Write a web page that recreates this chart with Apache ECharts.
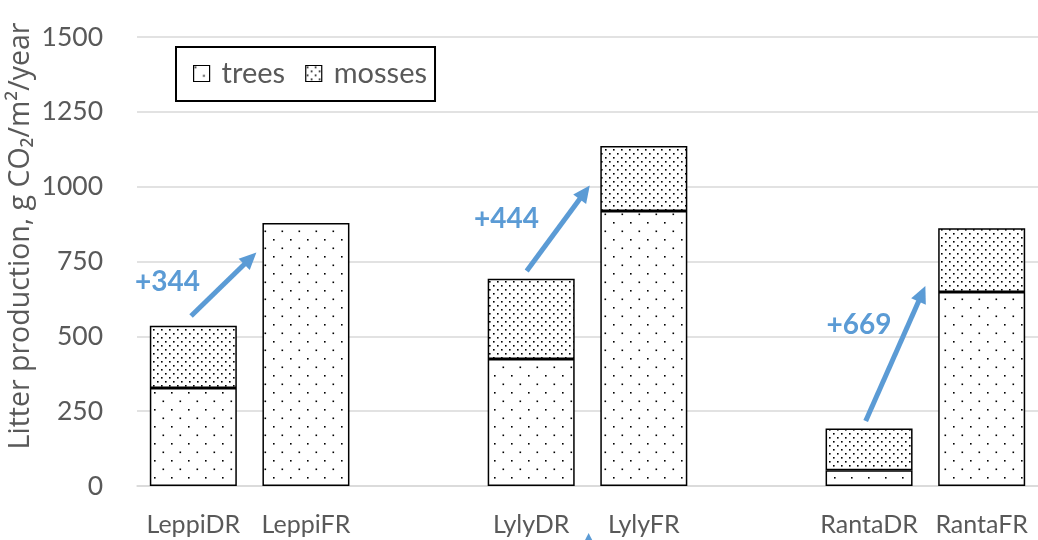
<!DOCTYPE html>
<html>
<head>
<meta charset="utf-8">
<script src="https://cdn.jsdelivr.net/npm/echarts@6/dist/echarts.min.js"></script>
<style>
    html, body { margin: 0; padding: 0; background: #fff; }
    #chart { width: 1038px; height: 540px; }
</style>
</head>
<body>
<div id="chart"></div>
<script>
var categories = ['LeppiDR', 'LeppiFR', '', 'LylyDR', 'LylyFR', '', 'RantaDR', 'RantaFR'];
var trees = [327, 879, null, 424, 919, null, 53, 648];
var mosses = [208, null, null, 268, 217, null, 139, 213];
var yTicks = [0, 250, 500, 750, 1000, 1250, 1500];
var yName = 'Litter production, g CO₂/m²/year';

// arrows and labels, in data space: [category index (fractional), value]
var arrowFrom = [[-0.02, 568], [2.96, 718], [5.97, 217]];
var arrowTo = [[0.56, 780], [3.52, 1004], [6.5, 668]];
var arrowText = ['+344', '+444', '+669'];
var textPos = [[-0.23, 681], [2.78, 891], [5.91, 537]];

var blue = '#5B9BD5';
var font = 'Lato, "Open Sans", sans-serif';

var makePattern = function (step, dots) {
    var c = document.createElement('canvas');
    c.width = step;
    c.height = step;
    var ctx = c.getContext('2d');
    ctx.fillStyle = '#fff';
    ctx.fillRect(0, 0, step, step);
    ctx.fillStyle = '#000';
    dots.forEach(function (d) { ctx.fillRect(d[0], d[1], 1.6, 1.6); });
    return { image: c, repeat: 'repeat' };
};
var treePattern = makePattern(17, [[1, 1], [9.5, 9.5]]);
var mossPattern = makePattern(8, [[1, 1], [5, 5]]);

var myChart = echarts.init(document.getElementById('chart'));

var option = {
    animation: false,
    backgroundColor: '#fff',
    textStyle: { fontFamily: font },
    grid: { left: 137, right: 0, top: 37, bottom: 54 },
    legend: {
        left: 176,
        top: 47,
        padding: [12, 8, 13, 17],
        backgroundColor: '#fff',
        borderColor: '#000',
        borderWidth: 2,
        borderRadius: 0,
        icon: 'rect',
        itemWidth: 16,
        itemHeight: 16,
        itemGap: 20,
        textStyle: { fontSize: 29, color: '#595959', padding: [0, 0, 0, 7] },
        itemStyle: { borderColor: '#000', borderWidth: 1.2 },
        data: ['trees', 'mosses']
    },
    xAxis: {
        type: 'category',
        data: categories,
        axisLine: { lineStyle: { color: '#d9d9d9', width: 1.5 } },
        axisTick: { show: false },
        axisLabel: { fontSize: 25, color: '#595959', margin: 26, interval: 0 }
    },
    yAxis: {
        type: 'value',
        min: 0,
        max: 1500,
        interval: 250,
        axisLine: { show: false },
        axisTick: { show: false },
        axisLabel: {
            fontSize: 26.5, color: '#595959', margin: 34,
            formatter: function (v) { return yTicks.indexOf(v) >= 0 ? String(v) : ''; }
        },
        splitLine: { lineStyle: { color: '#d9d9d9', width: 1.5 } }
    },
    series: [{
        name: 'trees',
        type: 'bar',
        stack: 'total',
        barWidth: 87,
        data: trees,
        itemStyle: { color: treePattern, borderColor: '#000', borderWidth: 1.5 }
    }, {
        name: 'mosses',
        type: 'bar',
        stack: 'total',
        barWidth: 87,
        data: mosses,
        itemStyle: { color: mossPattern, borderColor: '#000', borderWidth: 1.5 }
    }]
};
myChart.setOption(option);

var toPixel = function (p) {
    var x0 = myChart.convertToPixel({ xAxisIndex: 0 }, 0);
    var x1 = myChart.convertToPixel({ xAxisIndex: 0 }, 1);
    var y = myChart.convertToPixel({ yAxisIndex: 0 }, p[1]);
    return [x0 + p[0] * (x1 - x0), y];
};

var arrowGraphic = function (from, to) {
    var a = toPixel(from), b = toPixel(to);
    var dx = b[0] - a[0], dy = b[1] - a[1];
    var len = Math.sqrt(dx * dx + dy * dy);
    var ux = dx / len, uy = dy / len;
    var head = 17, half = 8;
    var bx = b[0] - ux * head, by = b[1] - uy * head;
    return [{
        type: 'line',
        shape: { x1: a[0], y1: a[1], x2: bx + ux * 2, y2: by + uy * 2 },
        style: { stroke: blue, lineWidth: 5 }
    }, {
        type: 'polygon',
        shape: { points: [b, [bx - uy * half, by + ux * half], [bx + uy * half, by - ux * half]] },
        style: { fill: blue }
    }];
};

var graphics = [{
    type: 'text',
    x: 21,
    y: 236,
    rotation: Math.PI / 2,
    style: {
        text: yName, fill: '#595959', fontSize: 28.5, fontFamily: '"Open Sans", Lato, sans-serif',
        align: 'center', verticalAlign: 'middle'
    }
}];
arrowFrom.forEach(function (from, i) {
    graphics = graphics.concat(arrowGraphic(from, arrowTo[i]));
    var tp = toPixel(textPos[i]);
    graphics.push({
        type: 'text',
        x: tp[0],
        y: tp[1],
        style: {
            text: arrowText[i], fill: blue, fontSize: 28, fontWeight: 'bold',
            fontFamily: font, align: 'center', verticalAlign: 'middle'
        }
    });
});

// tip of an arrow cut off at the bottom edge
var tip = toPixel([3.51, -170]);
graphics.push({
    type: 'polygon',
    shape: { points: [[tip[0], tip[1] - 4], [tip[0] - 4, tip[1] + 4], [tip[0] + 4, tip[1] + 4]] },
    style: { fill: blue }
});

myChart.setOption({ graphic: graphics });
</script>
</body>
</html>
